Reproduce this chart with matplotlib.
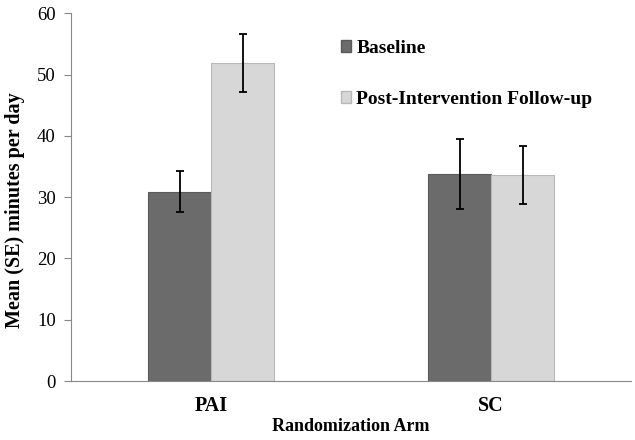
import matplotlib
matplotlib.use("Agg")
import matplotlib.pyplot as plt
import numpy as np
from matplotlib.patches import Patch

categories = ["PAI", "SC"]
series_names = ["Baseline", "Post-Intervention Follow-up"]
baseline = [30.9, 33.7]
baseline_se = [3.3, 5.7]
followup = [51.9, 33.6]
followup_se = [4.7, 4.8]
yticks = [0, 10, 20, 30, 40, 50, 60]

plt.rcParams['font.family'] = ['Liberation Serif', 'DejaVu Serif']

fig = plt.figure(figsize=(6.35, 4.4), dpi=100)
ax = fig.add_axes([0.112, 0.134, 0.882, 0.836])

x = np.arange(len(categories))
w = 0.225
dark = "#6b6b6b"
light = "#d7d7d7"
ax.bar(x - w/2, baseline, w, color=dark, edgecolor="#5a5a5a", linewidth=0.8, zorder=2)
ax.bar(x + w/2, followup, w, color=light, edgecolor="#b8b8b8", linewidth=0.8, zorder=2)
ax.errorbar(x - w/2, baseline, yerr=baseline_se, fmt='none', ecolor='black',
            elinewidth=1.3, capsize=3, capthick=1.3, zorder=3)
ax.errorbar(x + w/2, followup, yerr=followup_se, fmt='none', ecolor='black',
            elinewidth=1.3, capsize=3, capthick=1.3, zorder=3)

ax.set_xlim(-0.5, 1.5)
ax.set_ylim(0, 60)
ax.set_yticks(yticks)
ax.set_yticklabels([str(t) for t in yticks], fontsize=13.5)
ax.set_xticks(x)
ax.set_xticklabels(categories, fontsize=14.5, fontweight='bold')
ax.tick_params(axis='x', length=0, pad=11)
ax.tick_params(axis='y', direction='out', length=5, color='#888888', pad=6)

for s in ['top', 'right']:
    ax.spines[s].set_visible(False)
ax.spines['left'].set_color('#888888')
ax.spines['bottom'].set_color('#888888')

ax.set_ylabel("Mean (SE) minutes per day", fontsize=14.5, fontweight='bold')
ax.yaxis.set_label_coords(-0.083, 0.465)
ax.set_xlabel("Randomization Arm", fontsize=13, fontweight='bold', labelpad=1)

handles = [Patch(facecolor=dark, edgecolor="#5a5a5a"), Patch(facecolor=light, edgecolor="#b8b8b8")]
leg = ax.legend(handles, series_names, loc='upper left', bbox_to_anchor=(0.45, 0.975),
                frameon=False, handlelength=0.55, handleheight=0.55, handletextpad=0.25,
                labelspacing=1.75, prop={'weight': 'bold', 'size': 14})

fig.savefig("out.png", dpi=100)
